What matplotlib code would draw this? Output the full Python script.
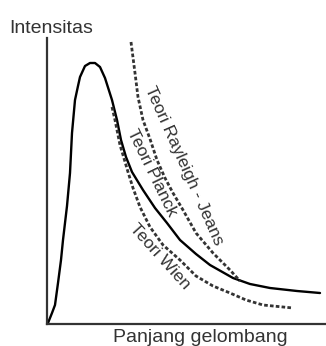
import matplotlib
matplotlib.use("Agg")
import matplotlib.pyplot as plt

plt.rcParams['font.family'] = ['Liberation Sans', 'DejaVu Sans']

# Wavelength (arbitrary units) and intensity (arbitrary units) for each model
planck_x = [1, 5, 8, 11, 14, 16, 20, 23, 25, 28, 31, 33, 38, 43, 48, 53, 58, 65, 70,
            74, 79, 85, 96, 108, 120, 133, 149, 163, 186, 203, 223, 250, 273]
planck_y = [1, 11, 19, 41, 64, 84, 118, 151, 191, 224, 238, 247, 258, 261, 261, 257,
            246, 224, 204, 184, 167, 152, 134, 116, 101, 84, 70, 59, 46, 40, 36, 33, 31]

rj_x = [84, 88, 91, 96, 103, 110, 118, 126, 136, 149, 166, 183, 193]
rj_y = [282, 251, 227, 204, 185, 164, 146, 131, 114, 91, 71, 54, 43]

wien_x = [65, 68, 70, 73, 76, 81, 86, 93, 103, 116, 133, 149, 166, 183, 199, 216, 246]
wien_y = [217, 204, 194, 179, 169, 152, 136, 117, 97, 79, 64, 48, 38, 31, 24, 19, 16]

grey = '#333333'

fig = plt.figure(figsize=(3.26, 3.46), dpi=100)
ax = fig.add_axes([47 / 326, 22 / 346, 279 / 326, 286 / 346])
ax.set_xlim(0, 279)
ax.set_ylim(0, 286)

ax.plot(planck_x, planck_y, color='black', lw=1.7, solid_joinstyle='round',
        solid_capstyle='round')
ax.plot(rj_x, rj_y, color=grey, lw=2.0, dashes=(1.3, 0.8))
ax.plot(wien_x, wien_y, color=grey, lw=2.0, dashes=(1.3, 0.8))

for side in ('top', 'right'):
    ax.spines[side].set_visible(False)
for side in ('left', 'bottom'):
    ax.spines[side].set_color(grey)
    ax.spines[side].set_linewidth(1.6)
ax.set_xticks([])
ax.set_yticks([])

ax.text(137, 158, 'Teori Rayleigh - Jeans', rotation=-66, rotation_mode='anchor',
        ha='center', va='center', fontsize=12.5, color=grey)
ax.text(105, 151, 'Teori Planck', rotation=-64, rotation_mode='anchor',
        ha='center', va='center', fontsize=12.5, color=grey)
ax.text(113, 67, 'Teori Wien', rotation=-48, rotation_mode='anchor',
        ha='center', va='center', fontsize=12.5, color=grey)

fig.text(9 / 326, 1 - 33 / 346, 'Intensitas', ha='left', va='baseline',
         fontsize=14, color=grey)
fig.text(200 / 326, 1 - 342 / 346, 'Panjang gelombang', ha='center', va='baseline',
         fontsize=14, color=grey)

fig.savefig('out.png', dpi=100)
